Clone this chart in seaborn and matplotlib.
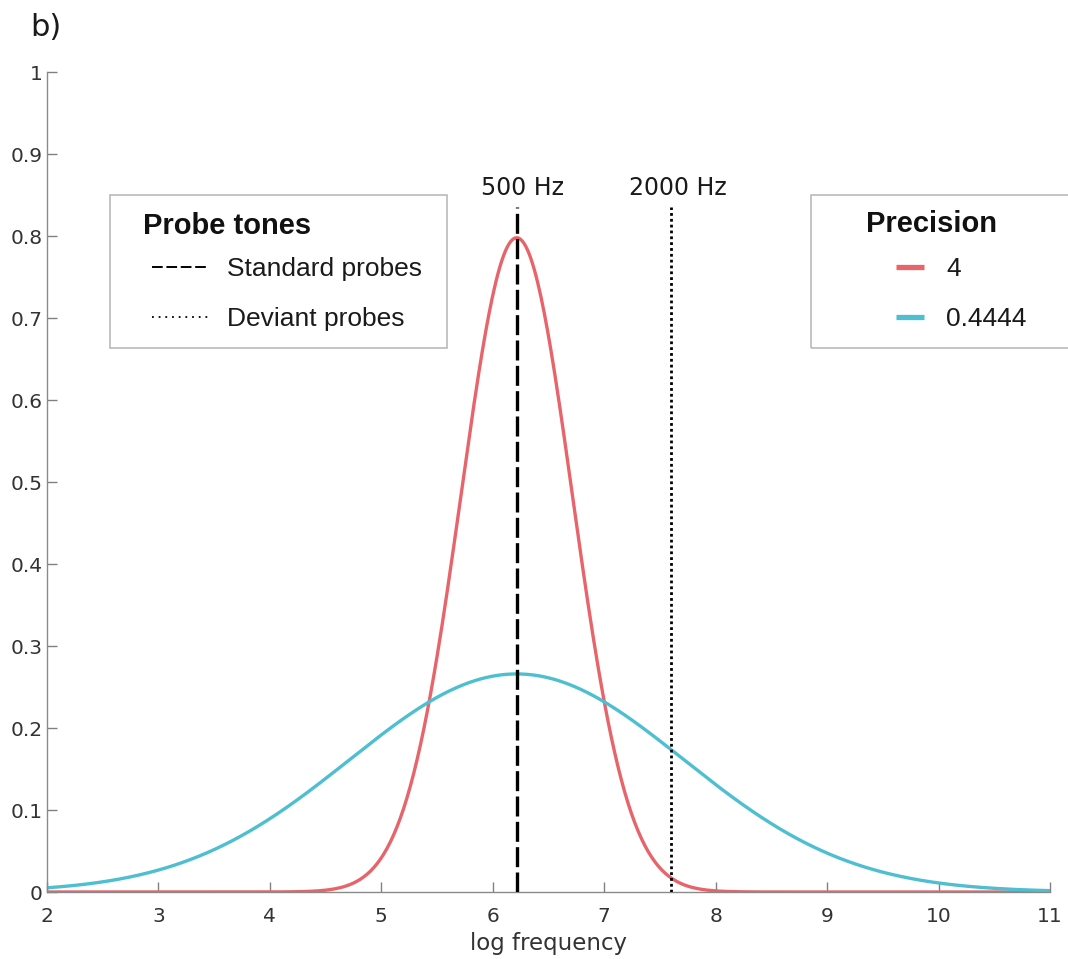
import numpy as np
import pandas as pd
import matplotlib
matplotlib.use("Agg")
import matplotlib.pyplot as plt
from matplotlib.lines import Line2D
from matplotlib.patches import Rectangle
from matplotlib.legend_handler import HandlerLine2D
import seaborn as sns

# ---- data ----
probe_freqs_hz = [500, 2000]          # standard, deviant probe tones
probe_labels = ["500 Hz", "2000 Hz"]
precisions = [4, 0.4444]              # precision of the Gaussian belief
precision_labels = ["4", "0.4444"]
belief_mean = np.log(500)             # centred on the standard tone
x_ticks = [2, 3, 4, 5, 6, 7, 8, 9, 10, 11]
y_ticks = [0, 0.1, 0.2, 0.3, 0.4, 0.5, 0.6, 0.7, 0.8, 0.9, 1]
y_tick_labels = ["0", "0.1", "0.2", "0.3", "0.4", "0.5", "0.6", "0.7", "0.8", "0.9", "1"]

xs = np.linspace(2, 11, 600)
frames = []
for p, lab in zip(precisions, precision_labels):
    dens = np.sqrt(p / (2 * np.pi)) * np.exp(-0.5 * p * (xs - belief_mean) ** 2)
    frames.append(pd.DataFrame({"log frequency": xs, "density": dens, "Precision": lab}))
df = pd.concat(frames, ignore_index=True)

RED = "#E8646B"
CYAN = "#4DBFD0"
palette = {"4": RED, "0.4444": CYAN}

sns.set_theme(style="ticks")
plt.rcParams["font.family"] = ["DejaVu Sans"]

W, H = 1068, 959
fig = plt.figure(figsize=(W / 100, H / 100), dpi=100, facecolor="white")
ax = fig.add_axes([47 / W, 67 / H, 1003 / W, 820 / H])

sns.lineplot(data=df, x="log frequency", y="density", hue="Precision",
             palette=palette, hue_order=precision_labels, linewidth=2.4,
             legend=False, ax=ax, zorder=2)

# probe tone lines
std_x, dev_x = np.log(probe_freqs_hz[0]), np.log(probe_freqs_hz[1])
ax.vlines(std_x, 0, 0.835, colors="black", linestyles=(0, (6, 1.6)), linewidth=2.4, zorder=3)
ax.vlines(dev_x, 0, 0.835, colors="black", linestyles=(0, (1, 1.1)), linewidth=2.0, zorder=3)
for xv, lab in zip([std_x, dev_x], probe_labels):
    ax.annotate(lab, xy=(xv, 0.8585), xytext=(4.5, 0), textcoords="offset points",
                ha="center", va="center", fontsize=17, color="#1a1a1a")

ax.set_xlim(2, 11)
ax.set_ylim(0, 1)
ax.set_xticks(x_ticks)
ax.set_yticks(y_ticks)
ax.set_yticklabels(y_tick_labels)
ax.set_xlabel("log frequency", fontsize=16.5, color="#333333", labelpad=4)
ax.set_ylabel("")
ax.tick_params(direction="in", length=7, width=1, color="#808080",
               labelsize=14.5, labelcolor="#333333")
ax.tick_params(axis="x", pad=11)
ax.tick_params(axis="y", pad=3)
for s in ["top", "right"]:
    ax.spines[s].set_visible(False)
for s in ["left", "bottom"]:
    ax.spines[s].set_color("#8a8a8a")
    ax.spines[s].set_linewidth(1.0)

fig.text(30 / W, 1 - 27 / H, "b)", fontsize=22, va="center", ha="left", color="#1a1a1a")

# ---- legends ----
LFONT = "Liberation Sans"
fs = 19
fs_px = fs * 100 / 72

# Probe tones legend
fig.add_artist(Rectangle((110 / W, 1 - 348 / H), 337 / W, 153 / H, transform=fig.transFigure,
                         fill=False, edgecolor="#b4b4b4", linewidth=1.1))
probe_handles = [Line2D([], [], color="black", linestyle=(0, (5.5, 1.9)), linewidth=1.4),
                 Line2D([], [], color="black", linestyle=(0, (1, 2.7)), linewidth=1.3)]
hl = HandlerLine2D(xpad=9 / fs_px)
leg_kw = dict(loc="upper left", bbox_transform=fig.transFigure,
              frameon=False, borderpad=0, borderaxespad=0,
              labelspacing=1.0, alignment="left",
              prop={"family": LFONT, "size": fs},
              title_fontproperties={"family": LFONT, "size": 21, "weight": "bold"})
leg1 = fig.legend(probe_handles, ["Standard probes", "Deviant probes"],
                  title="Probe tones", bbox_to_anchor=(143 / W, 1 - 202.5 / H),
                  handlelength=(9 + 57) / fs_px, handletextpad=18 / fs_px,
                  handler_map={h: hl for h in probe_handles}, **leg_kw)
for t in leg1.get_texts():
    t.set_color("#1a1a1a")
leg1.get_title().set_color("#111111")
leg1.get_title().set_position((0, -9))   # tighten title-to-entries gap (pixels)

# Precision legend
fig.add_artist(Rectangle((811 / W, 1 - 348 / H), 270 / W, 153 / H, transform=fig.transFigure,
                         fill=False, edgecolor="#b4b4b4", linewidth=1.1))
prec_handles = [Line2D([], [], color=RED, linewidth=3.8, solid_capstyle="butt"),
                Line2D([], [], color=CYAN, linewidth=3.8, solid_capstyle="butt")]
hl2 = HandlerLine2D(xpad=30 / fs_px)
leg2 = fig.legend(prec_handles, precision_labels, title="Precision",
                  bbox_to_anchor=(866 / W, 1 - 202.5 / H),
                  handlelength=(30 + 28) / fs_px, handletextpad=22 / fs_px,
                  handler_map={h: hl2 for h in prec_handles}, **leg_kw)
for t in leg2.get_texts():
    t.set_color("#1a1a1a")
leg2.get_title().set_color("#111111")
leg2.get_title().set_position((0, -8))

fig.savefig("out.png", dpi=100, facecolor="white")
